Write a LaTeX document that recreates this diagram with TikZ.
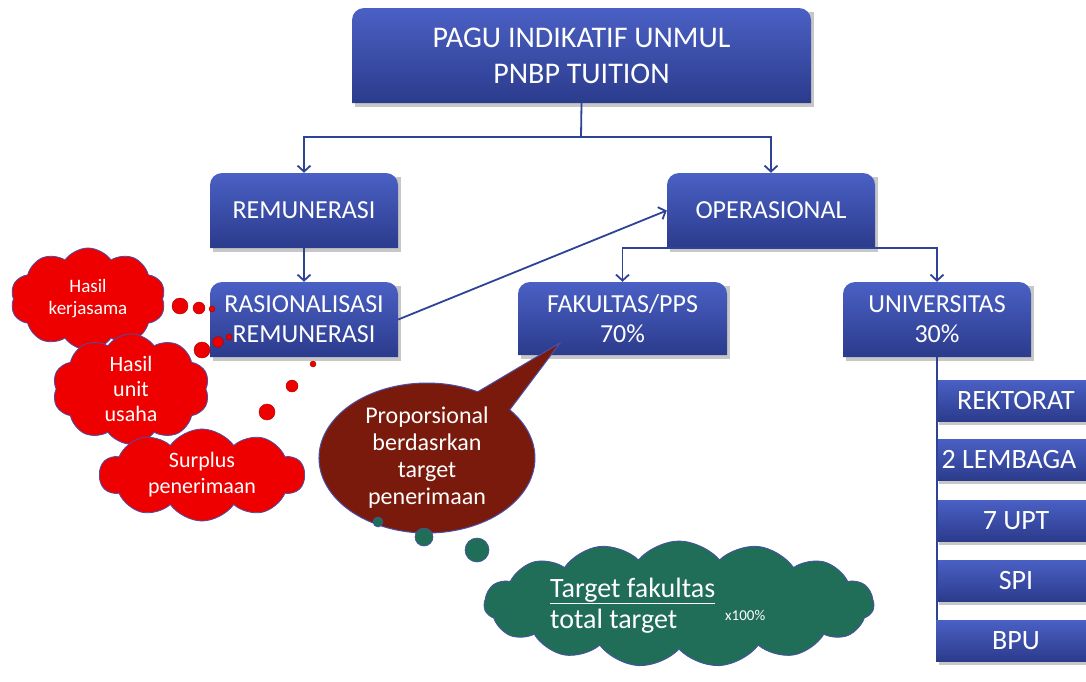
\documentclass[tikz,border=0pt]{standalone}
\usepackage{fontspec}
\setmainfont{Carlito}
\usetikzlibrary{arrows.meta,shapes.symbols,calc}
\definecolor{btop}{HTML}{4A60C4}
\definecolor{bbot}{HTML}{2B3B8C}
\definecolor{lc}{HTML}{2F4396}
\definecolor{cred}{HTML}{EE0000}
\definecolor{cbd}{HTML}{4A4FA8}
\definecolor{brn}{HTML}{7A1A0C}
\definecolor{grn}{HTML}{216E58}
\tikzset{
  txt/.style={text=white, align=center, inner sep=0pt},
  conn/.style={draw=lc, line width=1.8pt},
  arr/.style={conn, -{Straight Barb[length=6pt,width=13pt,line width=1.8pt]}},
  redcloud/.style={cloud, cloud puffs=10, cloud puff arc=110, draw=cbd, line width=0.8pt, fill=cred, text=white, align=center, inner sep=0pt},
  dotred/.style={fill=cred, draw=cred!70!black, line width=0.4pt},
  dotgrn/.style={fill=grn, draw=cbd, line width=0.6pt},
}
% rounded-top box: name, x1, y1, x2, y2, font, text
\newcommand\rtbox[7]{%
  \fill[black,opacity=0.22] (#2+3,#3+4) -- (#4+3,#3+4) -- (#4+3,#5+4) -- (#2+3,#5+4) -- cycle;
  \shade[top color=btop,bottom color=bbot] (#2,#5) -- (#2,#3+12) arc[start angle=180,end angle=90,radius=12pt] -- (#4-12,#3) arc[start angle=90,end angle=0,radius=12pt] -- (#4,#5) -- cycle;
  \node[txt, minimum width={(#4-#2)*1pt}, minimum height={(#5-#3)*1pt}, font=#6] (#1) at ({(#2+#4)/2},{(#3+#5)/2}) {#7};%
}
\newcommand\sqbox[7]{%
  \fill[black,opacity=0.22] (#2+3,#3+4) rectangle (#4+3,#5+4);
  \shade[top color=btop,bottom color=bbot] (#2,#3) rectangle (#4,#5);
  \node[txt, minimum width={(#4-#2)*1pt}, minimum height={(#5-#3)*1pt}, font=#6] (#1) at ({(#2+#4)/2},{(#3+#5)/2}) {#7};%
}
\newcommand\fA{\fontsize{30}{36}\selectfont}
\newcommand\fB{\fontsize{26}{30}\selectfont}
\newcommand\fC{\fontsize{28}{32}\selectfont}
\begin{document}
\begin{tikzpicture}[x=1pt,y=-1pt]
\useasboundingbox (0,0) rectangle (1086,681);
\fill[white] (0,0) rectangle (1086,681);

% boxes
\rtbox{top}{352}{8}{811}{103}{\fA}{PAGU INDIKATIF UNMUL\\PNBP TUITION}
\rtbox{rem}{210}{173}{398}{248}{\fB}{REMUNERASI}
\rtbox{ops}{667}{173}{875}{248}{\fB}{OPERASIONAL}
\rtbox{ras}{210}{282}{398}{357}{\fB}{RASIONALISASI\\REMUNERASI}
\rtbox{fak}{518}{282}{727}{355}{\fB}{FAKULTAS/PPS\\70\%}
\rtbox{uni}{843}{282}{1031}{357}{\fB}{UNIVERSITAS\\30\%}
\sqbox{rek}{936}{380}{1096}{421}{\fC}{REKTORAT}
\sqbox{lem}{936}{439}{1096}{480}{\fC}{\hspace*{-14pt}2 LEMBAGA}
\sqbox{upt}{936}{500}{1096}{541}{\fC}{7 UPT}
\sqbox{spi}{936}{560}{1096}{601}{\fC}{SPI}
\sqbox{bpu}{936}{620}{1096}{661}{\fC}{BPU}

% connectors
\coordinate (j1) at (581,137);
\draw[conn] (top.south) -- (j1);
\draw[arr] (j1) -| (rem.north);
\draw[arr] (j1) -| (ops.north);
\draw[arr] (rem.south) -- (ras.north);
\draw[arr] (ras.east) -- (ops.west);
\draw[arr] (ops.south) -| (fak.north);
\draw[arr] (ops.south) -| (uni.north);
\draw[conn, line width=1.2pt] (uni.south) -- (uni.south |- bpu.north);

% red clouds
\node[redcloud, aspect=1.5, minimum width=155pt, minimum height=102pt, font=\fontsize{19}{22}\selectfont] (c1) at (88,299) {Hasil\\kerjasama};
\node[redcloud, aspect=1.5, minimum width=157pt, minimum height=102pt, font=\fontsize{22}{25}\selectfont] (c2) at (131,389) {Hasil\\unit\\usaha};
\node[redcloud, aspect=2.2, minimum width=205pt, minimum height=92pt, font=\fontsize{22}{26}\selectfont] (c3) at (202,475) {Surplus\\penerimaan};

% red dots
\filldraw[dotred] (180,306) circle[radius=8pt];
\filldraw[dotred] (199,308) circle[radius=6pt];
\filldraw[dotred] (212,309) circle[radius=3pt];
\filldraw[dotred] (202,350) circle[radius=8pt];
\filldraw[dotred] (218,342) circle[radius=5.5pt];
\filldraw[dotred] (229,337) circle[radius=3pt];
\filldraw[dotred] (267,412) circle[radius=8pt];
\filldraw[dotred] (292,386) circle[radius=6pt];
\filldraw[dotred] (313,364) circle[radius=3pt];

% brown speech bubble
\coordinate (tip) at (560,343);
\filldraw[fill=brn, draw=cbd, line width=1pt] (477.7,391.8) arc[start angle=62,end angle=400,x radius=108pt,y radius=75pt] -- (tip) -- cycle;
\node[txt, font=\fontsize{24}{27}\selectfont] (bub) at (427,458) {Proporsional\\berdasrkan\\target\\penerimaan};

% green dots
\filldraw[dotgrn] (378,522) circle[radius=5pt];
\filldraw[dotgrn] (424,537) circle[radius=9pt];
\filldraw[dotgrn] (477,550) circle[radius=12pt];

% green cloud
\node[cloud, cloud puffs=15, cloud puff arc=100, aspect=3, draw=cbd, line width=0.8pt, fill=grn, minimum width=390pt, minimum height=126pt, inner sep=0pt] (gc) at (679,604) {};
\node[txt, anchor=base west, font=\fontsize{28}{30}\selectfont] (gt1) at (550,597) {\underline{Target fakultas}};
\node[txt, anchor=base west, font=\fontsize{28}{30}\selectfont] (gt2) at (550,628) {total target};
\node[txt, anchor=base west, font=\fontsize{15}{17}\selectfont] (gx) at (725,620) {x100\%};
\end{tikzpicture}
\end{document}
